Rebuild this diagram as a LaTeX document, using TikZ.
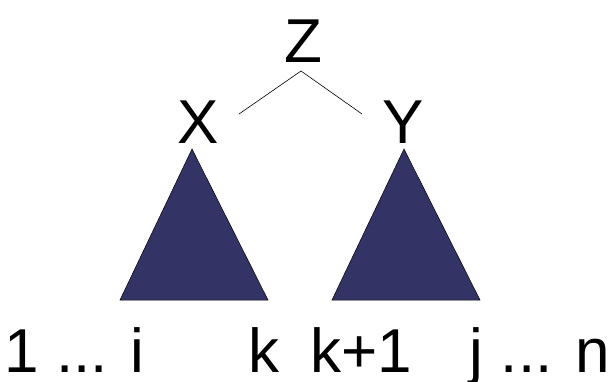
\documentclass[tikz,border=0pt]{standalone}
\usepackage{fontspec}
\setmainfont{Liberation Sans}
\usepackage{tikz}
\definecolor{AzulArbol}{RGB}{51,51,102}

\begin{document}
\begin{tikzpicture}[x=1pt,y=-1pt,
  etiqueta/.style={inner sep=0pt,anchor=base,font=\fontsize{62}{74}\selectfont},
  subarbol/.style={fill=AzulArbol,draw=black,line width=0.5pt}]
  \useasboundingbox (0,0) rectangle (608,381);

  \node[etiqueta] (Z) at (303,62) {Z};
  \node[etiqueta] (X) at (198.5,143) {X};
  \node[etiqueta] (Y) at (403,143) {Y};

  \coordinate (Zpunta) at (301,71);
  \coordinate (Xpunta) at (239,114);
  \coordinate (Ypunta) at (362,114);
  \draw[line width=0.6pt] (Xpunta) -- (Zpunta) -- (Ypunta);

  \draw[subarbol] (192,149) -- (120,300) -- (268,300) -- cycle;
  \draw[subarbol] (404,149) -- (332,300) -- (480,300) -- cycle;

  \node[etiqueta] (izq) at (74.5,372) {1 ... i};
  \node[etiqueta] (k) at (264,372) {k};
  \node[etiqueta] (kmas) at (361,372) {k+1};
  \node[etiqueta] (der) at (540,372) {j ... n};
\end{tikzpicture}
\end{document}
